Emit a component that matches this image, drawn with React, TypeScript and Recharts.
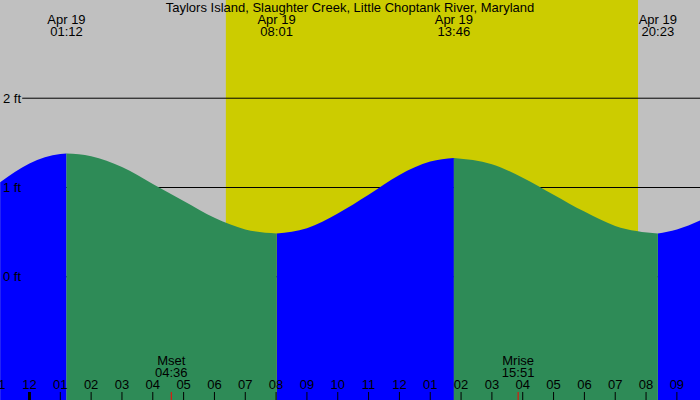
import React from "react";
import {
  ComposedChart,
  Area,
  XAxis,
  YAxis,
  ReferenceArea,
  ReferenceLine,
} from "recharts";

const TITLE = "Taylors Island, Slaughter Creek, Little Choptank River, Maryland";
const DATE_LABEL = "Apr 19";

// hours since midnight Apr 19 (negative = evening before), water level in ft
const TIDE_HOURS = [-0.95, 0, 1, 1.2, 2, 3, 4, 5, 6, 7, 8.0167, 9, 10, 11, 12, 13, 13.7667, 15, 16, 17, 18, 19, 20.3833, 21, 21.75];
const TIDE_FEET = [1.06, 1.27, 1.375, 1.38, 1.35, 1.23, 1.04, 0.85, 0.66, 0.53, 0.485, 0.545, 0.71, 0.92, 1.14, 1.29, 1.33, 1.26, 1.11, 0.92, 0.73, 0.57, 0.485, 0.53, 0.63];

const EXTREME_HOURS = [1.2, 8.0167, 13.7667, 20.3833];
const EXTREME_KINDS = ["H", "L", "H", "L"];
const EXTREME_TIMES = ["01:12", "08:01", "13:46", "20:23"];

const SUNRISE = 6.37;
const SUNSET = 19.74;

const MOON_EVENTS = ["Mset", "Mrise"];
const MOON_TIMES = ["04:36", "15:51"];
const MOON_HOURS = [4.6, 15.85];

const FEET_LINES = [0, 1, 2];
const HOUR_TICKS = [-1, 0, 1, 2, 3, 4, 5, 6, 7, 8, 9, 10, 11, 12, 13, 14, 15, 16, 17, 18, 19, 20, 21];

const X_MIN = -0.956;
const X_MAX = 21.75;
const Y_MIN = -1.38;
const Y_MAX = 3.1;
const LINE_START = X_MIN + 0.72;

const FONT = '"Liberation Sans", Arial, sans-serif';
const BG = "#c0c0c0";
const DAY = "#cccc00";
const RISING = "#0000ff";
const FALLING = "#2e8b57";

function isRising(t: number) {
  const next = EXTREME_HOURS.findIndex((e) => e > t);
  if (next === -1) return EXTREME_KINDS[EXTREME_KINDS.length - 1] === "L";
  return EXTREME_KINDS[next] === "H";
}

const chartData = TIDE_HOURS.map((t, i) => {
  const h = TIDE_FEET[i];
  const extreme = EXTREME_HOURS.includes(t);
  const up = isRising(t);
  return {
    t,
    rise: up || extreme ? h : null,
    fall: !up || extreme ? h : null,
  };
});

function hourLabel(v: number) {
  const hr = ((v % 24) + 24) % 24;
  const h12 = hr % 12 === 0 ? 12 : hr % 12;
  return String(h12).padStart(2, "0");
}

export default function App() {
  return (
    <div
      style={{
        position: "absolute",
        left: 0,
        top: 0,
        width: 700,
        height: 400,
        background: BG,
        overflow: "hidden",
      }}
    >
      <ComposedChart
        width={700}
        height={400}
        data={chartData}
        margin={{ top: 0, right: 0, bottom: 0, left: 0 }}
      >
        <XAxis dataKey="t" type="number" domain={[X_MIN, X_MAX]} allowDataOverflow hide />
        <YAxis type="number" domain={[Y_MIN, Y_MAX]} allowDataOverflow hide />

        <ReferenceArea x1={SUNRISE} x2={SUNSET} fill={DAY} fillOpacity={1} stroke="none" zIndex={10} />

        {FEET_LINES.map((v) => (
          <ReferenceLine
            key={`line-${v}`}
            segment={[
              { x: LINE_START, y: v },
              { x: X_MAX, y: v },
            ]}
            stroke="#000"
            strokeWidth={1}
            zIndex={20}
          />
        ))}

        <Area
          dataKey="rise"
          type="monotone"
          fill={RISING}
          fillOpacity={1}
          stroke="none"
          baseValue={Y_MIN}
          connectNulls={false}
          dot={false}
          activeDot={false}
          isAnimationActive={false}
        />
        <Area
          dataKey="fall"
          type="monotone"
          fill={FALLING}
          fillOpacity={1}
          stroke="none"
          baseValue={Y_MIN}
          connectNulls={false}
          dot={false}
          activeDot={false}
          isAnimationActive={false}
        />

        {FEET_LINES.map((v) => (
          <ReferenceLine
            key={`label-${v}`}
            y={v}
            stroke="none"
            label={{
              value: `${v} ft`,
              position: "insideLeft",
              offset: 3,
              fill: "#000",
              fontSize: 13,
              fontFamily: FONT,
            }}
          />
        ))}

        {HOUR_TICKS.map((h) => (
          <ReferenceLine
            key={`hour-${h}`}
            x={h}
            stroke="none"
            ifOverflow="visible"
            label={(p: any) => {
              const bottom = p.viewBox.y + p.viewBox.height;
              const midnight = ((h % 24) + 24) % 24 === 0;
              return (
                <g>
                  <line
                    x1={p.viewBox.x}
                    x2={p.viewBox.x}
                    y1={bottom - 8}
                    y2={bottom}
                    stroke="#000"
                    strokeWidth={midnight ? 3 : 1}
                  />
                  <text x={p.viewBox.x} y={bottom - 11} textAnchor="middle" fontSize={13} fontFamily={FONT} fill="#000">
                    {hourLabel(h)}
                  </text>
                </g>
              );
            }}
          />
        ))}

        {EXTREME_HOURS.map((t, i) => (
          <ReferenceLine
            key={`ext-${i}`}
            x={t}
            stroke="none"
            label={(p: any) => (
              <g>
                <text x={p.viewBox.x} y={p.viewBox.y + 24} textAnchor="middle" fontSize={13} fontFamily={FONT} fill="#000">
                  {DATE_LABEL}
                </text>
                <text x={p.viewBox.x} y={p.viewBox.y + 36} textAnchor="middle" fontSize={13} fontFamily={FONT} fill="#000">
                  {EXTREME_TIMES[i]}
                </text>
              </g>
            )}
          />
        ))}

        {MOON_HOURS.map((t, i) => (
          <ReferenceLine
            key={`moon-${i}`}
            x={t}
            stroke="none"
            label={(p: any) => {
              const bottom = p.viewBox.y + p.viewBox.height;
              return (
                <g>
                  <text x={p.viewBox.x} y={bottom - 35} textAnchor="middle" fontSize={13} fontFamily={FONT} fill="#000">
                    {MOON_EVENTS[i]}
                  </text>
                  <text x={p.viewBox.x} y={bottom - 23} textAnchor="middle" fontSize={13} fontFamily={FONT} fill="#000">
                    {MOON_TIMES[i]}
                  </text>
                  <line x1={p.viewBox.x} x2={p.viewBox.x} y1={bottom - 8} y2={bottom} stroke="#ff0000" strokeWidth={1} />
                </g>
              );
            }}
          />
        ))}
      </ComposedChart>
      <div
        style={{
          position: "absolute",
          left: 0,
          top: 0,
          width: 700,
          textAlign: "center",
          fontFamily: FONT,
          fontSize: 13,
          lineHeight: "15px",
          color: "#000",
        }}
      >
        {TITLE}
      </div>
    </div>
  );
}
